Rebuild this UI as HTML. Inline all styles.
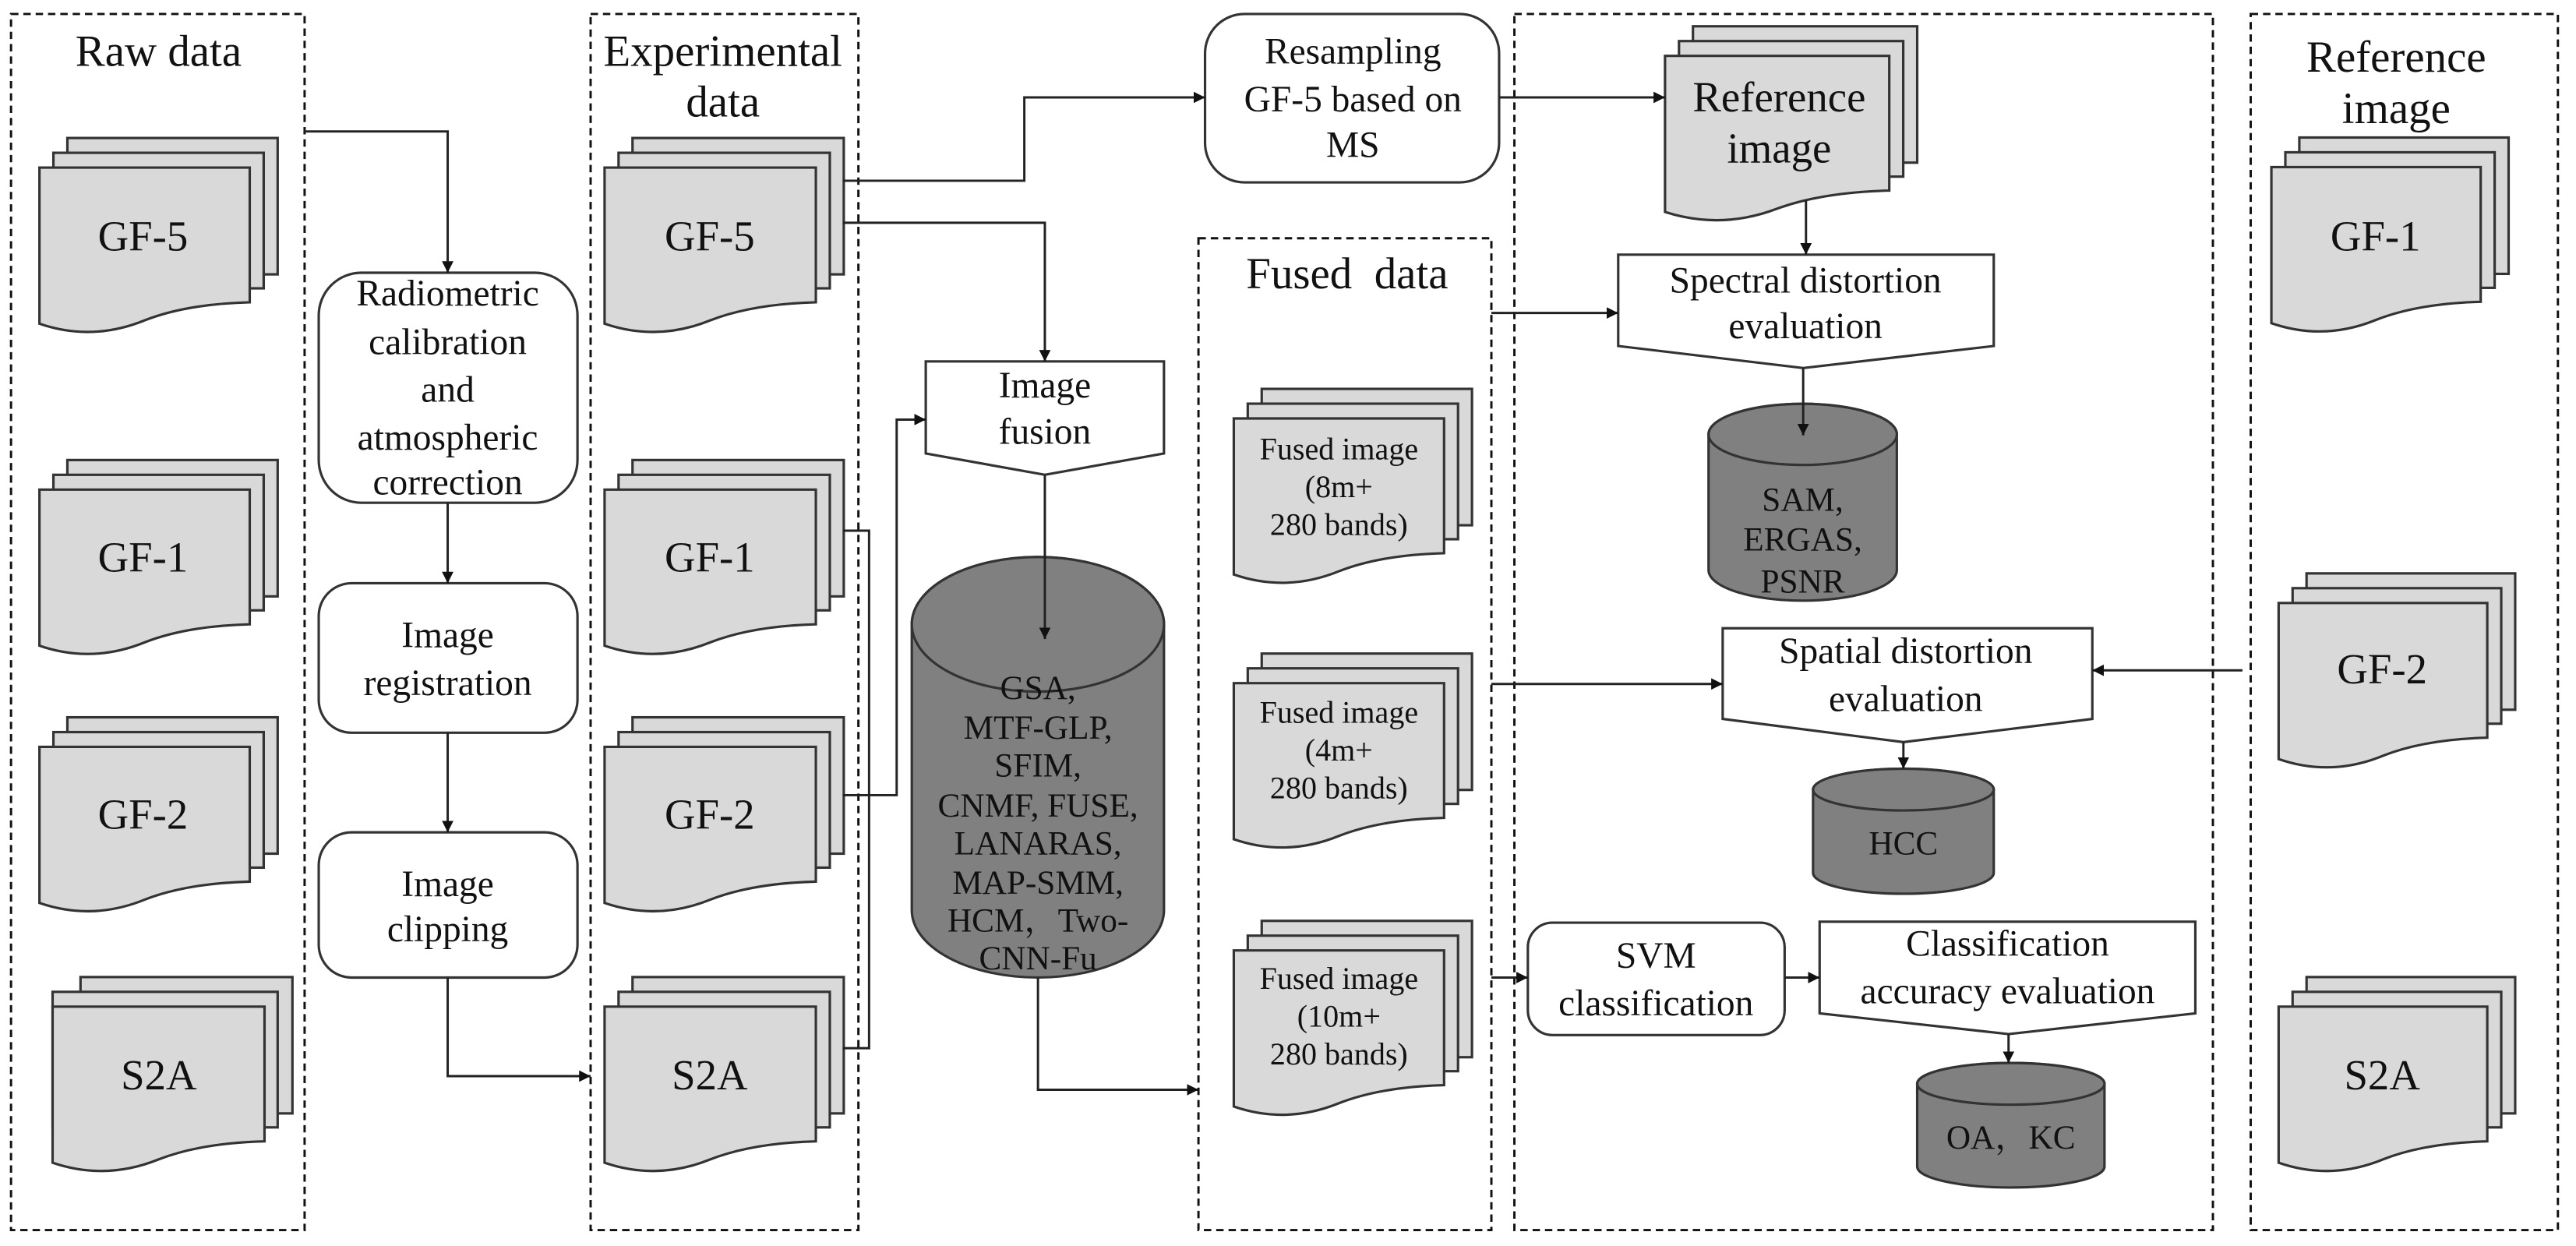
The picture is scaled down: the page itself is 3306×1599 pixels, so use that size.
<!DOCTYPE html>
<html><head><meta charset="utf-8"><style>
html,body{margin:0;padding:0;background:#fff;}
svg{display:block;}
text{font-family:"Liberation Serif","Times New Roman",serif;fill:#111;}
.cjk{font-family:"Liberation Serif","Noto Serif CJK SC",serif;}
</style></head><body>
<svg width="3306" height="1599" viewBox="0 0 1568 758.4" xmlns="http://www.w3.org/2000/svg">
<defs>
<marker id="a" viewBox="0 0 10 10" refX="10" refY="5" markerWidth="7" markerHeight="7" markerUnits="userSpaceOnUse" orient="auto"><path d="M0,0 L10,5 L0,10 z" fill="#111"/></marker>
</defs>
<rect width="1568" height="758.4" fill="#fff"/>
<g fill="none" stroke="#111" stroke-width="1.4" stroke-dasharray="4.5 3">
<rect x="6.7" y="8.5" width="178.7" height="740.2"/>
<rect x="359.5" y="8.5" width="163" height="740.2"/>
<rect x="729.5" y="145" width="178.3" height="603.7"/>
<rect x="921.8" y="8.5" width="425.2" height="740.2"/>
<rect x="1370" y="8.5" width="187" height="740.2"/>
</g>
<g font-size="27" text-anchor="middle">
<text x="96.5" y="40">Raw data</text>
<text x="440" y="40">Experimental</text>
<text x="440" y="71">data</text>
<text x="820" y="175.5" xml:space="preserve">Fused  data</text>
<text x="1458.6" y="43.6">Reference</text>
<text x="1458.6" y="75">image</text>
</g>
<g id="docs" fill="#d9d9d9" stroke="#333" stroke-width="1.5">
</g>
<script>
(function(){
var g=document.getElementById('docs');var ns='http://www.w3.org/2000/svg';
function doc(x,y,w){var h=82;return 'M'+x+','+y+' L'+(x+w)+','+y+' L'+(x+w)+','+(y+h)+' Q'+(x+0.7*w)+','+(y+h+1)+' '+(x+0.5*w)+','+(y+h+11)+' Q'+(x+0.25*w)+','+(y+h+24)+' '+x+','+(y+h+13)+' Z';}
function stack(x,y,w,oddMid){
 var p;
 p=document.createElementNS(ns,'rect');p.setAttribute('x',x+17);p.setAttribute('y',y-18);p.setAttribute('width',w);p.setAttribute('height',83);g.appendChild(p);
 p=document.createElementNS(ns,'rect');p.setAttribute('x',oddMid?x:x+8.5);p.setAttribute('y',y-9);p.setAttribute('width',oddMid?w+8:w);p.setAttribute('height',82.5);g.appendChild(p);
 p=document.createElementNS(ns,'path');p.setAttribute('d',doc(x,y,w));g.appendChild(p);
}
var S=[[24,102,128],[24,298,128],[24,454.6,128],[32,612.7,129,1],
[368,102,128.6],[368,298,128.6],[368,454.6,128.6],[368,612.7,128.6],
[1013.5,34,136.5],[751,254.7,128],[751,415.8,128],[751,578.5,128],
[1382.6,101.7,127.4],[1387,367,127],[1387,612.7,127]];
S.forEach(function(s){stack(s[0],s[1],s[2],s[3]);});
})();
</script>
<g font-size="26" text-anchor="middle">
<text x="87" y="152.5">GF-5</text>
<text x="87" y="348">GF-1</text>
<text x="87" y="504.5">GF-2</text>
<text x="96.7" y="663">S2A</text>
<text x="432" y="152.5">GF-5</text>
<text x="432" y="348">GF-1</text>
<text x="432" y="504.5">GF-2</text>
<text x="432" y="663">S2A</text>
<text x="1446" y="152.5">GF-1</text>
<text x="1450" y="416">GF-2</text>
<text x="1450" y="663">S2A</text>
<text x="1083" y="67.8">Reference</text>
<text x="1083" y="99">image</text>
</g>
<g font-size="19" text-anchor="middle">
<text x="815" y="279.7">Fused image</text><text x="815" y="302.7">(8m+</text><text x="815" y="325.7">280 bands)</text>
<text x="815" y="440">Fused image</text><text x="815" y="463">(4m+</text><text x="815" y="486">280 bands)</text>
<text x="815" y="602">Fused image</text><text x="815" y="625">(10m+</text><text x="815" y="648">280 bands)</text>
</g>
<g fill="#fff" stroke="#333" stroke-width="1.5">
<rect x="194" y="166" width="157.5" height="140" rx="26"/>
<rect x="194" y="355" width="157.5" height="91" rx="20"/>
<rect x="194" y="506.6" width="157.5" height="88.4" rx="20"/>
<rect x="733.5" y="8.5" width="179" height="102.5" rx="24"/>
<rect x="930" y="561.6" width="156.3" height="68.4" rx="15"/>
<path d="M563.5,220 L708.5,220 L708.5,276 L636,289 L563.5,276 Z"/>
<path d="M985,155 L1213.6,155 L1213.6,210.6 L1097.6,224 L985,210.6 Z"/>
<path d="M1048.6,382.4 L1273.6,382.4 L1273.6,437.6 L1158.6,451.7 L1048.6,437.6 Z"/>
<path d="M1107.6,561 L1336.3,561 L1336.3,616.8 L1222.6,629.4 L1107.6,616.8 Z"/>
</g>
<g fill="#808080" stroke="#333" stroke-width="1.5">
<path d="M555,380 A76.75,41 0 0 1 708.5,380 L708.5,554 A76.75,41 0 0 1 555,554 Z"/>
<ellipse cx="631.75" cy="380" rx="76.75" ry="41"/>
<path d="M1040,264.4 A57.3,18.6 0 0 1 1154.6,264.4 L1154.6,347 A57.3,18.6 0 0 1 1040,347 Z"/>
<ellipse cx="1097.3" cy="264.4" rx="57.3" ry="18.6"/>
<path d="M1103.6,480.6 A55,12.7 0 0 1 1213.6,480.6 L1213.6,531.3 A55,12.7 0 0 1 1103.6,531.3 Z"/>
<ellipse cx="1158.6" cy="480.6" rx="55" ry="12.7"/>
<path d="M1167,659.7 A57,12.7 0 0 1 1281,659.7 L1281,710.1 A57,12.7 0 0 1 1167,710.1 Z"/>
<ellipse cx="1224" cy="659.7" rx="57" ry="12.7"/>
</g>
<g font-size="22.5" text-anchor="middle">
<text x="272.5" y="186">Radiometric</text>
<text x="272.5" y="215.5">calibration</text>
<text x="272.5" y="244.5">and</text>
<text x="272.5" y="273.6">atmospheric</text>
<text x="272.5" y="301">correction</text>
<text x="272.5" y="394">Image</text>
<text x="272.5" y="423">registration</text>
<text x="272.5" y="545.4">Image</text>
<text x="272.5" y="573">clipping</text>
<text x="823.5" y="38.7">Resampling</text>
<text x="823.5" y="67.8">GF-5 based on</text>
<text x="823.5" y="95.6">MS</text>
<text x="636" y="242">Image</text>
<text x="636" y="270">fusion</text>
<text x="1099" y="178">Spectral distortion</text>
<text x="1099" y="205.8">evaluation</text>
<text x="1160" y="403.7">Spatial distortion</text>
<text x="1160" y="432.8">evaluation</text>
<text x="1222" y="581.7">Classification</text>
<text x="1222" y="610.7">accuracy evaluation</text>
<text x="1008" y="589">SVM</text>
<text x="1008" y="618">classification</text>
</g>
<g font-size="20.5" text-anchor="middle" style="fill:#222">
<text x="631.8" y="425.5">GSA,</text>
<text x="631.8" y="449.7">MTF-GLP,</text>
<text x="631.8" y="472.7">SFIM,</text>
<text x="631.8" y="497">CNMF, FUSE,</text>
<text x="631.8" y="520">LANARAS,</text>
<text x="631.8" y="544">MAP-SMM,</text>
<text class="cjk" x="631.8" y="567">HCM，Two-</text>
<text x="631.8" y="590">CNN-Fu</text>
<text x="1097.3" y="311">SAM,</text>
<text x="1097.3" y="335">ERGAS,</text>
<text x="1097.3" y="360.8">PSNR</text>
<text x="1158.6" y="520">HCC</text>
<text class="cjk" x="1224" y="699">OA，KC</text>
</g>
<g fill="none" stroke="#222" stroke-width="1.4">
<polyline points="185,80 272.5,80 272.5,166" marker-end="url(#a)"/>
<polyline points="272.5,306 272.5,355" marker-end="url(#a)"/>
<polyline points="272.5,446 272.5,506.6" marker-end="url(#a)"/>
<polyline points="272.5,595 272.5,655 359.5,655" marker-end="url(#a)"/>
<polyline points="513,110 623.5,110 623.5,59.3 733.5,59.3" marker-end="url(#a)"/>
<polyline points="912.5,59.3 1013.5,59.3" marker-end="url(#a)"/>
<polyline points="513,135.6 636,135.6 636,220" marker-end="url(#a)"/>
<polyline points="513,323 529,323 529,638 513,638"/>
<polyline points="513,484 545.8,484 545.8,255.4 563.5,255.4" marker-end="url(#a)"/>
<polyline points="636,289 636,389" marker-end="url(#a)"/>
<polyline points="631.8,595 631.8,663.3 729.5,663.3" marker-end="url(#a)"/>
<polyline points="907.8,190.5 985,190.5" marker-end="url(#a)"/>
<polyline points="1099.3,122 1099.3,155" marker-end="url(#a)"/>
<polyline points="1097.6,224 1097.6,265" marker-end="url(#a)"/>
<polyline points="907.8,416.3 1048.6,416.3" marker-end="url(#a)"/>
<polyline points="1365,408 1273.6,408" marker-end="url(#a)"/>
<polyline points="1158.6,451.7 1158.6,467.9" marker-end="url(#a)"/>
<polyline points="907.8,595 930,595" marker-end="url(#a)"/>
<polyline points="1086.3,595 1107.6,595" marker-end="url(#a)"/>
<polyline points="1222.6,629.4 1222.6,647" marker-end="url(#a)"/>
</g>
</svg>
</body></html>
